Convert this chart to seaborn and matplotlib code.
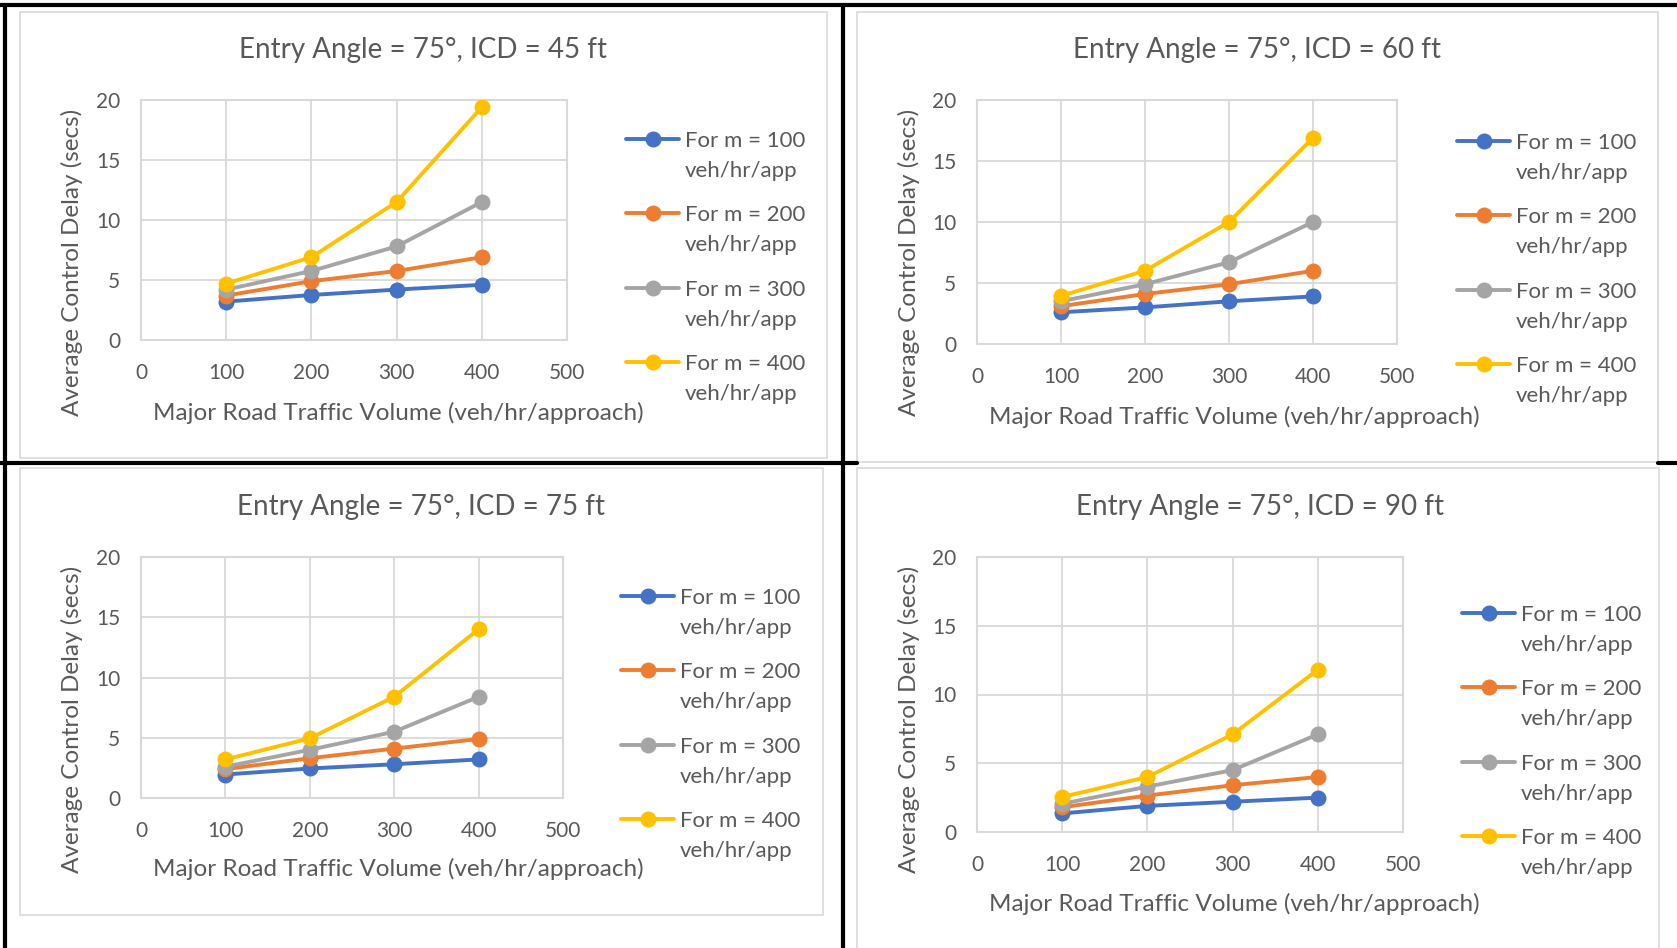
import numpy as np
import pandas as pd
import matplotlib
matplotlib.use("Agg")
import matplotlib.pyplot as plt
import seaborn as sns
from matplotlib.lines import Line2D
from matplotlib.patches import Rectangle
from matplotlib.legend_handler import HandlerLine2D

# ---------------- data ----------------
major_volume = [100, 200, 300, 400]
minor_flow_labels = ["For m = 100\nveh/hr/app", "For m = 200\nveh/hr/app",
                     "For m = 300\nveh/hr/app", "For m = 400\nveh/hr/app"]
titles = ["Entry Angle = 75°, ICD = 45 ft", "Entry Angle = 75°, ICD = 60 ft",
          "Entry Angle = 75°, ICD = 75 ft", "Entry Angle = 75°, ICD = 90 ft"]
x_ticks = [0, 100, 200, 300, 400, 500]
y_ticks = [0, 5, 10, 15, 20]

# rows: m = 100, 200, 300, 400 ; columns: major volume 100..400
delay_icd45 = [[3.2, 3.75, 4.2, 4.6],
               [3.7, 4.9, 5.75, 6.9],
               [4.2, 5.75, 7.8, 11.5],
               [4.7, 6.9, 11.5, 19.4]]
delay_icd60 = [[2.6, 3.0, 3.5, 3.9],
               [3.1, 4.1, 4.9, 6.0],
               [3.5, 4.9, 6.7, 10.0],
               [3.95, 6.0, 10.0, 16.9]]
delay_icd75 = [[1.95, 2.45, 2.8, 3.2],
               [2.4, 3.3, 4.1, 4.9],
               [2.6, 4.0, 5.5, 8.4],
               [3.2, 4.95, 8.4, 14.0]]
delay_icd90 = [[1.35, 1.9, 2.2, 2.5],
               [1.8, 2.65, 3.4, 4.0],
               [2.05, 3.3, 4.5, 7.1],
               [2.55, 4.0, 7.1, 11.8]]
panel_data = [delay_icd45, delay_icd60, delay_icd75, delay_icd90]

colors = ["#4472C4", "#ED7D31", "#A5A5A5", "#FFC000"]
text_color = "#595959"
grid_color = "#D9D9D9"

W, H = 1677, 948
sns.set_theme(style="white")
plt.rcParams["font.family"] = ["Lato", "DejaVu Sans"]

fig = plt.figure(figsize=(W / 100, H / 100), dpi=100)
fig.patch.set_facecolor("white")

# panel layout in pixels
panels = [
    dict(ax=(141, 100, 567, 340), box=(20, 12, 827, 458), title=(423, 58),
         ylab=(72, 262), xlab=(398, 413), leg=(626, 131)),
    dict(ax=(977, 100, 1397, 344), box=(857, 12, 1658, 462), title=(1257, 58),
         ylab=(909, 262), xlab=(1234, 417), leg=(1457, 133)),
    dict(ax=(141, 557, 563, 798), box=(20, 468, 823, 915), title=(421, 515),
         ylab=(72, 719), xlab=(398, 869), leg=(621, 588)),
    dict(ax=(977, 557, 1403, 832), box=(857, 468, 1659, 960), title=(1260, 515),
         ylab=(909, 719), xlab=(1234, 904), leg=(1462, 605)),
]


class TopAlignedHandler(HandlerLine2D):
    def __init__(self, shift=0, **kw):
        super().__init__(**kw)
        self.shift = shift

    def create_artists(self, legend, orig_handle, xdescent, ydescent, width,
                       height, fontsize, trans):
        arts = super().create_artists(legend, orig_handle, xdescent, ydescent,
                                      width, height, fontsize, trans)
        for a in arts:
            a.set_ydata(np.asarray(a.get_ydata(), dtype=float) + self.shift)
        return arts


def px_rect(l, t, r, b):
    return [l / W, 1 - b / H, (r - l) / W, (b - t) / H]


for p, data, title in zip(panels, panel_data, titles):
    # chart-area frame
    bl, bt, br, bb = p["box"]
    fig.add_artist(Rectangle((bl / W, 1 - bb / H), (br - bl) / W, (bb - bt) / H,
                             transform=fig.transFigure, fill=False,
                             edgecolor="#D9D9D9", linewidth=1.2, zorder=0))
    l, t, r, b = p["ax"]
    ax = fig.add_axes(px_rect(l, t, r, b))
    rows = []
    for lab, vals in zip(minor_flow_labels, data):
        for xv, yv in zip(major_volume, vals):
            rows.append({"volume": xv, "delay": yv, "series": lab})
    df = pd.DataFrame(rows)
    sns.lineplot(data=df, x="volume", y="delay", hue="series",
                 hue_order=minor_flow_labels, palette=colors, marker="o",
                 markersize=11.5, markeredgewidth=0, linewidth=2.8, ax=ax,
                 legend=True, zorder=3)
    ax.set_xlim(0, 500)
    ax.set_ylim(0, 20)
    ax.set_xticks(x_ticks)
    ax.set_yticks(y_ticks)
    ax.grid(True, color=grid_color, linewidth=1.3)
    ax.set_axisbelow(True)
    for s in ax.spines.values():
        s.set_color(grid_color)
        s.set_linewidth(1.5)
    ax.tick_params(axis="both", length=0, labelsize=15, labelcolor=text_color)
    ax.tick_params(axis="x", pad=16.5)
    ax.tick_params(axis="y", pad=15)

    ax.set_title(title, fontsize=20, color=text_color, ha="center", va="center",
                 x=(p["title"][0] - l) / (r - l),
                 y=(b - p["title"][1]) / (b - t))
    ax.set_xlabel("Major Road Traffic Volume (veh/hr/approach)", fontsize=17.5,
                  color=text_color)
    ax.set_ylabel("Average Control Delay (secs)", fontsize=17.5, color=text_color)
    ax.xaxis.set_label_coords((p["xlab"][0] - l) / (r - l),
                              (b - p["xlab"][1]) / (b - t))
    ax.xaxis.label.set_va("center")
    ax.yaxis.set_label_coords((p["ylab"][0] - l) / (r - l),
                              (b - p["ylab"][1]) / (b - t))
    ax.yaxis.label.set_va("center")

    handles, labels = ax.get_legend_handles_labels()
    lx, ly = p["leg"]
    leg = ax.legend(handles, labels, loc="upper left",
                    bbox_to_anchor=(lx / W, 1 - ly / H),
                    bbox_transform=fig.transFigure, frameon=False,
                    fontsize=16, handlelength=2.4, handletextpad=0.24,
                    borderpad=0, borderaxespad=0, labelspacing=1.1,
                    labelcolor=text_color,
                    handler_map={Line2D: TopAlignedHandler(shift=12.5)})
    for txt in leg.get_texts():
        txt.set_linespacing(1.62)

# black separator lines
lw = 3
fig.add_artist(Line2D([0, 1], [1 - 5 / H, 1 - 5 / H], transform=fig.transFigure,
                      color="black", linewidth=lw))
fig.add_artist(Line2D([5 / W, 5 / W], [0, 1 - 5 / H], transform=fig.transFigure,
                      color="black", linewidth=lw))
fig.add_artist(Line2D([843 / W, 843 / W], [0, 1 - 5 / H], transform=fig.transFigure,
                      color="black", linewidth=lw))
fig.add_artist(Line2D([0, 857 / W], [1 - 463 / H, 1 - 463 / H], transform=fig.transFigure,
                      color="black", linewidth=lw))
fig.add_artist(Line2D([1658 / W, 1], [1 - 463 / H, 1 - 463 / H], transform=fig.transFigure,
                      color="black", linewidth=lw))

fig.savefig("out.png", dpi=100, facecolor="white")
